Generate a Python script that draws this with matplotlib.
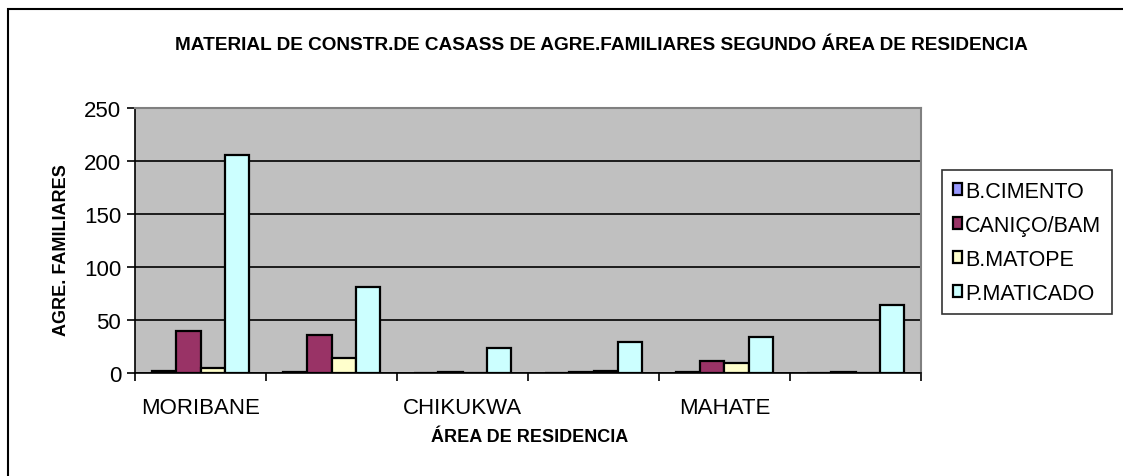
import matplotlib
matplotlib.use("Agg")
import matplotlib.pyplot as plt
import numpy as np
from matplotlib.patches import Rectangle

plt.rcParams['font.family'] = ['Liberation Sans', 'DejaVu Sans']

# data
areas = ['MORIBANE', '', 'CHIKUKWA', '', 'MAHATE', '']
series = ['B.CIMENTO', 'CANIÇO/BAM', 'B.MATOPE', 'P.MATICADO']
b_cimento = [2, 1, 0, 0, 1, 0]
canico = [40, 36, 1, 1, 11, 1]
b_matope = [5, 14, 0, 2, 9, 0]
p_maticado = [206, 81, 24, 29, 34, 64]
colors = ['#9999FF', '#993366', '#FFFFCC', '#CCFFFF']

W, H = 1123, 477
fig = plt.figure(figsize=(W / 100, H / 100), dpi=100)
fig.patch.set_facecolor('white')

# outer chart frame
fig.patches.append(Rectangle((8 / W, -0.1), 2, (H - 10) / H + 0.1, transform=fig.transFigure,
                             fill=False, edgecolor='black', linewidth=1.5, clip_on=False))

ax = fig.add_axes([135 / W, (H - 374) / H, 786 / W, 265 / H])
ax.set_facecolor('#C0C0C0')

x = np.arange(len(areas))
w = 0.187
values = [b_cimento, canico, b_matope, p_maticado]
for k, (name, vals, c) in enumerate(zip(series, values, colors)):
    ax.bar(x + (k - 1.5) * w, vals, width=w, color=c, edgecolor='black', linewidth=1.6,
           label=name, zorder=3)

ax.set_xlim(-0.5, len(areas) - 0.5)
ax.set_ylim(0, 250)
ax.set_yticks(np.arange(0, 251, 50))
ax.yaxis.grid(True, color='black', linewidth=1.2, zorder=1)
ax.set_axisbelow(True)

# ticks at category boundaries, labels at centres
ax.set_xticks(np.arange(-0.5, len(areas), 1.0))
ax.set_xticklabels([])
ax.set_xticks(x, minor=True)
ax.set_xticklabels(areas, minor=True, fontsize=16)
ax.tick_params(axis='x', which='major', direction='out', length=6, width=1.2)
ax.tick_params(axis='x', which='minor', length=0, pad=17)
ax.tick_params(axis='y', direction='out', length=6, width=1.2, labelsize=16, pad=4)

for s in ['top', 'right']:
    ax.spines[s].set_color('#808080')
    ax.spines[s].set_linewidth(1.5)
for s in ['left', 'bottom']:
    ax.spines[s].set_color('black')
    ax.spines[s].set_linewidth(1.2)

fig.text(601 / W, 1 - 45 / H, 'MATERIAL DE CONSTR.DE CASASS DE AGRE.FAMILIARES SEGUNDO ÁREA DE RESIDENCIA',
         ha='center', va='center', fontsize=13.7, fontweight='bold')
fig.text(62 / W, 1 - 250 / H, 'AGRE. FAMILIARES', ha='center', va='center', rotation=90,
         fontsize=13, fontweight='bold')
fig.text(530 / W, 1 - 438 / H, 'ÁREA DE RESIDENCIA', ha='center', va='center',
         fontsize=13, fontweight='bold')

leg = ax.legend(loc='upper left', bbox_to_anchor=(942 / W, 1 - 171 / H), bbox_transform=fig.transFigure,
                frameon=True, fancybox=False, edgecolor='black', fontsize=15.5,
                handlelength=0.45, handleheight=0.45, handletextpad=0.12, labelspacing=0.6,
                borderpad=0.5, borderaxespad=0)
leg.get_frame().set_linewidth(1.2)

fig.savefig('out.png', dpi=100)
